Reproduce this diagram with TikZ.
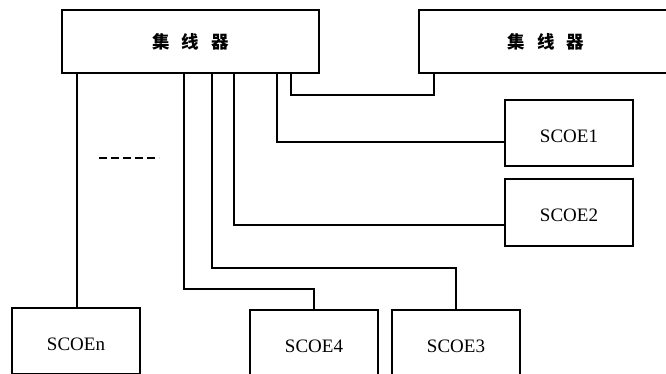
\documentclass[tikz,border=0pt]{standalone}
\usepackage{fontspec}
\setmainfont{Liberation Serif}
\newfontfamily\cjk{Noto Sans CJK SC}
\begin{document}
\begin{tikzpicture}[x=1pt,y=-1pt,
  line width=1.5pt, line join=miter,
  hubbox/.style={draw, line width=1.7pt, minimum width=257pt, minimum height=63pt, inner sep=0pt,
    font=\cjk\bfseries\fontsize{17.5}{20}\selectfont},
  scoebox/.style={draw, line width=1.7pt, minimum width=128pt, minimum height=66pt, inner sep=0pt,
    text height=18.5pt, text depth=0pt,
    font=\fontsize{19}{22}\selectfont}]
\useasboundingbox (0,0) rectangle (666,374);
\clip (0,0) rectangle (666,374);
\node[hubbox] (hub1) at (190.5,41.5) {集\hspace{12pt}线\hspace{12pt}器};
\node[hubbox, minimum width=254pt] (hub2) at (546,41.5) {集\hspace{12pt}线\hspace{12pt}器};
\node[scoebox] (s1) at (569,133) {SCOE1};
\node[scoebox, minimum height=67pt] (s2) at (569,212.5) {SCOE2};
\node[scoebox] (s3) at (456,343) {SCOE3};
\node[scoebox] (s4) at (314,343) {SCOE4};
\node[scoebox] (sn) at (76,341) {SCOEn};
% hub1 to hub2
\draw (hub1.south -| 291,0) -- (291,95) -- (434,95) -- (hub2.south -| 434,0);
% hub1 to SCOE1
\draw (hub1.south -| 277,0) -- (277,142) -- (s1.west |- 0,142);
% hub1 to SCOE2
\draw (hub1.south -| 234,0) -- (234,225) -- (s2.west |- 0,225);
% hub1 to SCOE3
\draw (hub1.south -| 212,0) -- (212,268) -- (456,268) -- (s3.north);
% hub1 to SCOE4
\draw (hub1.south -| 184,0) -- (184,289) -- (314,289) -- (s4.north);
% hub1 to SCOEn
\draw (hub1.south -| 77,0) -- (sn.north -| 77,0);
% dashes
\draw[dash pattern=on 8pt off 4pt] (99,158) -- (159,158);
\end{tikzpicture}
\end{document}
